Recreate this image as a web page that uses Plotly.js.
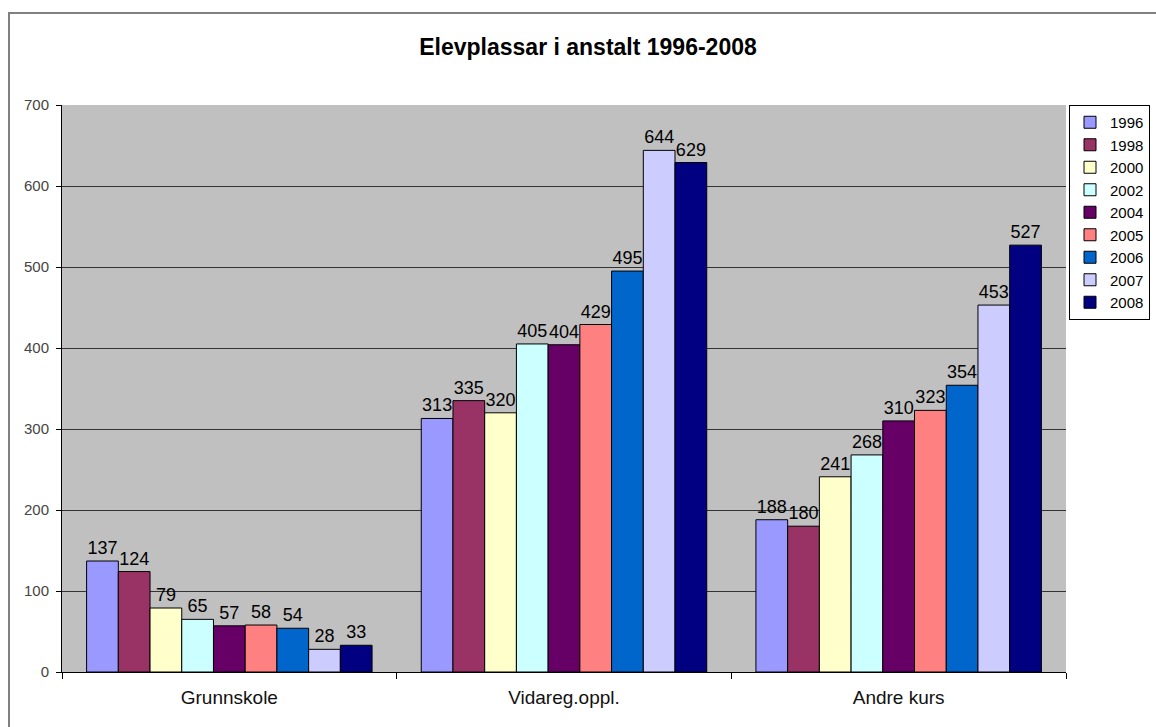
<!DOCTYPE html>
<html>
<head>
<meta charset="utf-8">
<script src="https://cdn.plot.ly/plotly-3.0.1.min.js"></script>
<style>
html,body{margin:0;padding:0;background:#fff;}
#chart{width:1156px;height:727px;}
</style>
</head>
<body>
<div id="chart"></div>
<script>
// Data
const categories = ["Grunnskole", "Vidareg.oppl.", "Andre kurs"];
const years = ["1996", "1998", "2000", "2002", "2004", "2005", "2006", "2007", "2008"];
const v1996 = [137, 313, 188];
const v1998 = [124, 335, 180];
const v2000 = [79, 320, 241];
const v2002 = [65, 405, 268];
const v2004 = [57, 404, 310];
const v2005 = [58, 429, 323];
const v2006 = [54, 495, 354];
const v2007 = [28, 644, 453];
const v2008 = [33, 629, 527];
const seriesValues = [v1996, v1998, v2000, v2002, v2004, v2005, v2006, v2007, v2008];
const yTicks = [0, 100, 200, 300, 400, 500, 600, 700];

const colors = ["#9999FF", "#993366", "#FFFFCC", "#CCFFFF", "#660066", "#FF8080", "#0066CC", "#CCCCFF", "#000080"];
const FONT = '"Liberation Sans", Arial, sans-serif';

const traces = years.map((yr, i) => ({
  type: 'bar',
  name: yr,
  x: categories,
  y: seriesValues[i],
  marker: {color: colors[i], line: {color: '#000000', width: 1}},
  text: seriesValues[i].map(String),
  texttemplate: '%{text}',
  textposition: 'outside',
  textfont: {family: FONT, size: 18, color: '#000000'},
  constraintext: 'none',
  cliponaxis: false,
  hoverinfo: 'x+y+name'
}));

const W = 1156, H = 727;
const L = 62, R = 90, T = 105, B = 55;
const pw = W - L - R, ph = H - T - B;
const px2x = p => (p - L) / pw;
const py2y = p => (H - B - p) / ph;

const layout = {
  width: W, height: H,
  margin: {l: L, r: R, t: T, b: B, pad: 0, autoexpand: false},
  paper_bgcolor: '#ffffff',
  plot_bgcolor: '#C0C0C0',
  font: {family: FONT, color: '#000000'},
  barmode: 'group',
  bargap: 0.147,
  bargroupgap: 0,
  title: {
    text: 'Elevplassar i anstalt 1996-2008',
    font: {family: FONT, size: 23, color: '#000000', weight: 'bold'},
    xref: 'paper', x: px2x(588), xanchor: 'center',
    yref: 'container', y: 1 - 47 / H, yanchor: 'middle'
  },
  xaxis: {
    type: 'category',
    showline: true, linecolor: '#000000', linewidth: 1,
    ticks: 'outside', tickson: 'boundaries', ticklen: 6, tickcolor: '#000000', tickwidth: 1,
    showgrid: false,
    tickfont: {family: FONT, size: 19, color: '#111111'},
    ticklabelstandoff: 8,
    fixedrange: true
  },
  yaxis: {
    range: [0, 700],
    tickmode: 'array', tickvals: yTicks, ticktext: yTicks.map(String),
    showline: true, linecolor: '#000000', linewidth: 1,
    ticks: 'outside', ticklen: 5, tickcolor: '#000000', tickwidth: 1,
    showgrid: true, gridcolor: '#333333', gridwidth: 1,
    zeroline: false,
    tickfont: {family: FONT, size: 15, color: '#444444'},
    ticklabelstandoff: 4,
    fixedrange: true
  },
  legend: {
    x: px2x(1069), xanchor: 'left',
    y: 1, yanchor: 'top',
    bgcolor: '#ffffff', bordercolor: '#000000', borderwidth: 1,
    font: {family: FONT, size: 15, color: '#000000'},
    entrywidth: 70,
    traceorder: 'normal',
    itemclick: false, itemdoubleclick: false
  },
  shapes: [{
    type: 'rect', xref: 'paper', yref: 'paper',
    x0: px2x(9), x1: px2x(1300), y0: py2y(800), y1: py2y(13),
    line: {color: '#808080', width: 2}, fillcolor: 'rgba(0,0,0,0)', layer: 'below'
  }],
  showlegend: true
};

Plotly.newPlot('chart', traces, layout, {displayModeBar: false, staticPlot: true});
</script>
</body>
</html>
